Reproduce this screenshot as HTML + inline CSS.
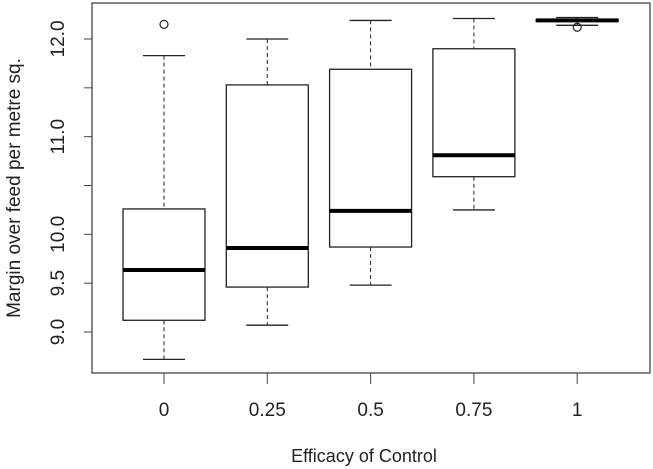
<!DOCTYPE html>
<html><head><meta charset="utf-8"><style>
html,body{margin:0;padding:0;background:#fff;}
svg{display:block;font-family:"Liberation Sans",Arial,sans-serif;}
</style></head><body>
<svg id="chart" width="653" height="469"></svg>
<script>
const categories=["0","0.25","0.5","0.75","1"];
const whiskLow=[8.72,9.07,9.48,10.25,12.14];
const q1=[9.12,9.46,9.87,10.59,12.18];
const medians=[9.635,9.86,10.24,10.81,12.19];
const q3=[10.26,11.53,11.69,11.90,12.20];
const whiskHigh=[11.83,12.0,12.19,12.21,12.22];
const outliers=[[12.15],[],[],[],[12.12]];
const yTicks=[9.0,9.5,10.0,10.5,11.0,11.5,12.0];
const yTickLabels=["9.0","9.5","10.0","","11.0","","12.0"];

const NS="http://www.w3.org/2000/svg";
const svg=document.getElementById('chart');
const L=92,T=3,R=650,B=373;
function y(v){return 332-(v-9)*97.67;}
function x(i){return 164+i*103.3;}
const hw=41, cap=42;
function add(tag,attrs,parent){const e=document.createElementNS(NS,tag);for(const k in attrs)e.setAttribute(k,attrs[k]);(parent||svg).appendChild(e);return e;}

const frame=add('rect',{x:L,y:T,width:R-L,height:B-T,fill:'none',stroke:'#444','stroke-width':1.3});



yTicks.forEach((v,i)=>{
  const t=add('line',{x1:L-8,x2:L,y1:y(v),y2:y(v),stroke:'#444','stroke-width':1});
  
  
  if(yTickLabels[i]){
    const tx=add('text',{x:0,y:0,transform:`translate(64,${y(v)}) rotate(-90)`,'text-anchor':'middle','font-size':19,fill:'#222'});
    tx.textContent=yTickLabels[i];
    
    
  }
});

categories.forEach((c,i)=>{
  const g=add('g',{});
  
  
  const cx=x(i);
  add('line',{x1:cx,x2:cx,y1:y(whiskHigh[i]),y2:y(q3[i]),stroke:'#222','stroke-dasharray':'4,3'},g);
  add('line',{x1:cx,x2:cx,y1:y(q1[i]),y2:y(whiskLow[i]),stroke:'#222','stroke-dasharray':'4,3'},g);
  add('line',{x1:cx-cap/2,x2:cx+cap/2,y1:y(whiskHigh[i]),y2:y(whiskHigh[i]),stroke:'#222','stroke-width':1.3},g);
  add('line',{x1:cx-cap/2,x2:cx+cap/2,y1:y(whiskLow[i]),y2:y(whiskLow[i]),stroke:'#222','stroke-width':1.3},g);
  add('rect',{x:cx-hw,y:y(q3[i]),width:2*hw,height:Math.max(0.5,y(q1[i])-y(q3[i])),fill:'#fff',stroke:'#222','stroke-width':1.3},g);
  add('line',{x1:cx-hw,x2:cx+hw,y1:y(medians[i]),y2:y(medians[i]),stroke:'#000','stroke-width':4},g);
  outliers[i].forEach(o=>{add('circle',{cx:cx,cy:y(o),r:4,fill:'none',stroke:'#222','stroke-width':1.2},g);});
  const t=add('line',{x1:cx,x2:cx,y1:B,y2:B+11,stroke:'#444'});
  
  
  const tx=add('text',{x:cx,y:416,'text-anchor':'middle','font-size':19,fill:'#222'});
  tx.textContent=c;
  
  
});

const xt=add('text',{x:364,y:462,'text-anchor':'middle','font-size':18,fill:'#222'});
xt.textContent='Efficacy of Control';


const yt=add('text',{x:0,y:0,transform:'translate(20,188) rotate(-90)','text-anchor':'middle','font-size':19,fill:'#222'});
yt.textContent='Margin over feed per metre sq.';


</script>
</body></html>
